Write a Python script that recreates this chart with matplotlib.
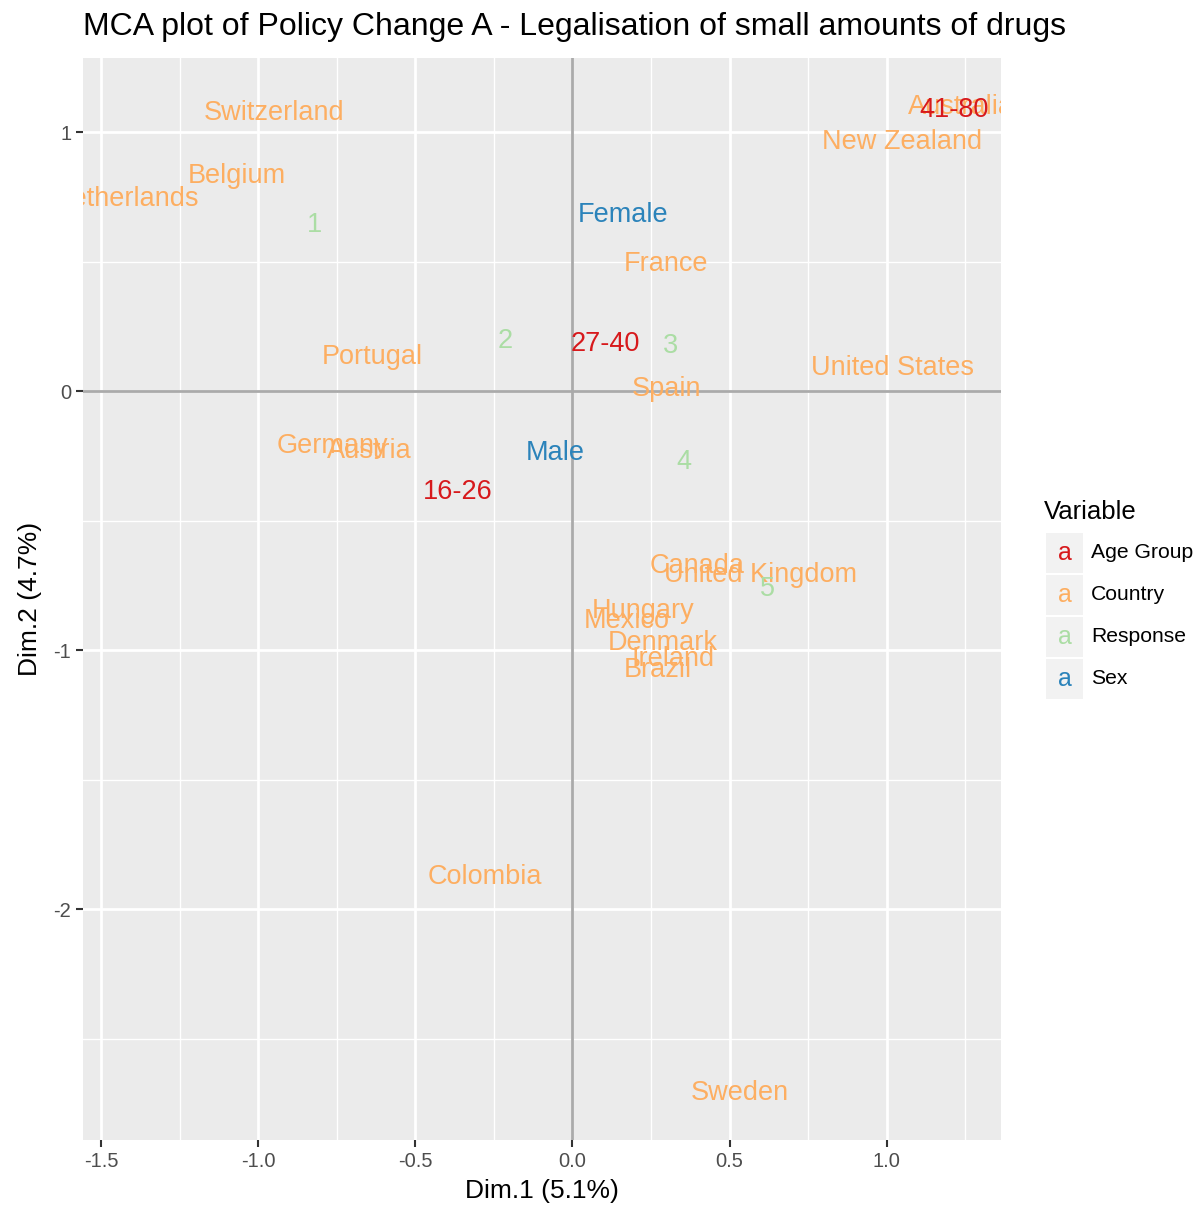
import matplotlib
matplotlib.use('Agg')
import matplotlib.pyplot as plt
from matplotlib.patches import Rectangle

plt.rcParams['font.family'] = ['Liberation Sans', 'DejaVu Sans']

labels = ['Switzerland', 'Belgium', 'Netherlands', 'Female', 'France', 'Portugal',
          'United States', 'Spain', 'Germany', 'Austria', 'Male', '16-26', '27-40',
          '41-80', 'Australia', 'New Zealand', 'Canada', 'United Kingdom', 'Hungary',
          'Mexico', 'Denmark', 'Ireland', 'Brazil', 'Colombia', 'Sweden',
          '1', '2', '3', '4', '5']
dim1 = [-0.949, -1.067, -1.420, 0.160, 0.298, -0.638,
        1.017, 0.298, -0.762, -0.647, -0.056, -0.364, 0.103,
        1.213, 1.235, 1.048, 0.396, 0.599, 0.224,
        0.173, 0.288, 0.320, 0.272, -0.279, 0.533,
        -0.819, -0.215, 0.313, 0.354, 0.621]
dim2 = [1.073, 0.830, 0.741, 0.680, 0.490, 0.131,
        0.089, 0.008, -0.212, -0.232, -0.239, -0.390, 0.181,
        1.085, 1.097, 0.961, -0.676, -0.710, -0.849,
        -0.888, -0.973, -1.035, -1.077, -1.876, -2.710,
        0.641, 0.193, 0.174, -0.274, -0.764]
variable = ['Country', 'Country', 'Country', 'Sex', 'Country', 'Country',
            'Country', 'Country', 'Country', 'Country', 'Sex', 'Age Group', 'Age Group',
            'Age Group', 'Country', 'Country', 'Country', 'Country', 'Country',
            'Country', 'Country', 'Country', 'Country', 'Country', 'Country',
            'Response', 'Response', 'Response', 'Response', 'Response']

groups = ['Age Group', 'Country', 'Response', 'Sex']
colors = {'Age Group': '#D7191C', 'Country': '#FDAE61', 'Response': '#ABDDA4', 'Sex': '#2B83BA'}

# draw order: countries first, then the others on top
order = ['Country', 'Response', 'Sex', 'Age Group']

fig = plt.figure(figsize=(12.03, 12.09), dpi=100)
ax = fig.add_axes([0.069, 0.057, 0.763, 0.895])
ax.set_facecolor('#EBEBEB')
for s in ax.spines.values():
    s.set_visible(False)

ax.set_xlim(-1.557, 1.363)
ax.set_ylim(-2.892, 1.286)
ax.set_xticks([-1.5, -1.0, -0.5, 0.0, 0.5, 1.0])
ax.set_xticklabels(['-1.5', '-1.0', '-0.5', '0.0', '0.5', '1.0'])
ax.set_yticks([-2, -1, 0, 1])
ax.set_yticklabels(['-2', '-1', '0', '1'])
ax.set_xticks([-1.25, -0.75, -0.25, 0.25, 0.75, 1.25], minor=True)
ax.set_yticks([-2.5, -1.5, -0.5, 0.5], minor=True)
ax.grid(which='major', color='white', linewidth=2.0)
ax.grid(which='minor', color='white', linewidth=1.0)
ax.set_axisbelow(True)
ax.tick_params(which='major', length=5, width=1.5, color='#333333',
               labelsize=14.5, labelcolor='#4D4D4D')
ax.tick_params(which='minor', length=0)

ax.axhline(0, color='#AAAAAA', linewidth=2, zorder=1)
ax.axvline(0, color='#AAAAAA', linewidth=2, zorder=1)

for g in order:
    for lab, x, y, v in zip(labels, dim1, dim2, variable):
        if v == g:
            ax.text(x, y, lab, color=colors[g], fontsize=19.5, ha='center', va='center',
                    clip_on=True, zorder=3)

ax.set_xlabel('Dim.1 (5.1%)', fontsize=19, labelpad=6)
ax.set_ylabel('Dim.2 (4.7%)', fontsize=19, labelpad=8)
fig.text(0.069, 0.978, 'MCA plot of Policy Change A - Legalisation of small amounts of drugs',
         fontsize=23, ha='left', va='center')

# legend
fig.text(1044 / 1203, 1 - 512 / 1209, 'Variable', fontsize=18.5, ha='left', va='center')
for i, g in enumerate(groups):
    cy = 553 + 42 * i
    fig.patches.append(Rectangle((1046 / 1203, 1 - (cy + 20) / 1209), 37 / 1203, 40 / 1209,
                                 transform=fig.transFigure, facecolor='#F2F2F2',
                                 edgecolor='none'))
    fig.text(1064.5 / 1203, 1 - cy / 1209, 'a', color=colors[g], fontsize=18,
             ha='center', va='center')
    fig.text(1091 / 1203, 1 - cy / 1209, g, fontsize=15.2, ha='left', va='center')

fig.savefig('out.png', dpi=100, facecolor='white')
